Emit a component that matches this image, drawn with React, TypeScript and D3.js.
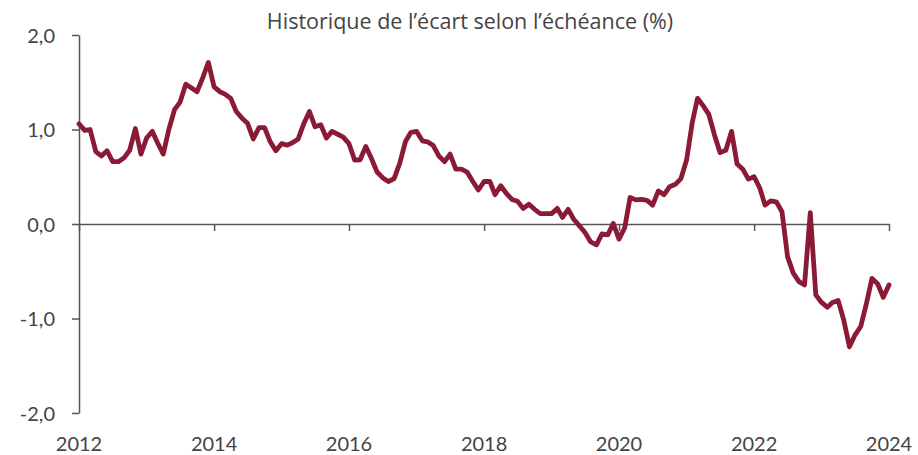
import React, { useEffect, useRef } from 'react';
import * as d3 from 'd3';

// month offsets from Jan 2012
const monthIndex: number[] = Array.from({ length: 145 }, (_, i) => i);

const spread: number[] = [
  1.06, 0.99, 1.0, 0.765, 0.72, 0.775, 0.66, 0.66, 0.7, 0.78, 1.01, 0.74,
  0.91, 0.98, 0.86, 0.74, 1.0, 1.21, 1.29, 1.48, 1.44, 1.4, 1.55, 1.71,
  1.45, 1.4, 1.375, 1.33, 1.19, 1.12, 1.065, 0.9, 1.02, 1.02, 0.87, 0.775,
  0.85, 0.835, 0.86, 0.9, 1.06, 1.19, 1.03, 1.05, 0.91, 0.98, 0.95, 0.92,
  0.85, 0.675, 0.68, 0.82, 0.695, 0.55, 0.49, 0.45, 0.48, 0.64, 0.87, 0.97,
  0.98, 0.88, 0.87, 0.83, 0.72, 0.66, 0.74, 0.58, 0.58, 0.55, 0.45, 0.36,
  0.45, 0.45, 0.31, 0.405, 0.325, 0.26, 0.24, 0.165, 0.21, 0.155, 0.11, 0.11,
  0.11, 0.165, 0.07, 0.155, 0.05, -0.02, -0.09, -0.19, -0.22, -0.105, -0.115, 0.005,
  -0.16, -0.04, 0.28, 0.255, 0.26, 0.25, 0.2, 0.35, 0.31, 0.395, 0.42, 0.48,
  0.68, 1.08, 1.33, 1.25, 1.16, 0.94, 0.755, 0.78, 0.98, 0.635, 0.58, 0.475,
  0.5, 0.38, 0.2, 0.245, 0.235, 0.13, -0.345, -0.52, -0.61, -0.645, 0.12, -0.75,
  -0.83, -0.88, -0.83, -0.81, -1.015, -1.3, -1.175, -1.085, -0.84, -0.575, -0.635, -0.775,
  -0.645,
];

const yTicks: number[] = [-2, -1, 0, 1, 2];
const xTickYears: number[] = [2012, 2014, 2016, 2018, 2020, 2022, 2024];

const title = 'Historique de l\u2019écart selon l\u2019échéance (%)';

function App() {
  const svgRef = useRef<SVGSVGElement>(null);
  const width = 918;
  const height = 455;

  useEffect(() => {
    document.body.style.margin = '0';
    if (!svgRef.current) return;

    const svg = d3.select(svgRef.current);
    svg.selectAll('*').remove();

    const margin = { top: 35, right: 29, bottom: 42, left: 79 };
    const font = 'Lato, "Open Sans", sans-serif';
    const axisColor = '#555';
    const textColor = '#444';

    const x = d3.scaleTime()
      .domain([new Date(2012, 0, 1), new Date(2024, 0, 1)])
      .range([margin.left, width - margin.right]);

    const y = d3.scaleLinear()
      .domain([-2, 2])
      .range([height - margin.bottom, margin.top]);

    const fmt = (v: number) => d3.format('.1f')(v).replace('.', ',').replace('−', '-');

    // title
    svg.append('text')
      .attr('x', 470)
      .attr('y', 29)
      .attr('text-anchor', 'middle')
      .style('font-family', '"Open Sans", sans-serif')
      .style('font-size', '21.5px')
      .style('fill', textColor)
      .text(title);

    // Y axis
    const yAxis = svg.append('g')
      .attr('transform', `translate(${margin.left},0)`)
      .call(d3.axisLeft(y).tickValues(yTicks).tickSize(7).tickSizeOuter(0).tickFormat(d => fmt(+d)));
    yAxis.select('.domain').attr('stroke', axisColor).attr('stroke-width', 1.5);
    yAxis.selectAll('.tick line').attr('stroke', axisColor).attr('stroke-width', 1.5);
    yAxis.selectAll('.tick text')
      .attr('x', -24)
      .attr('dy', '0.35em')
      .style('font-family', font)
      .style('font-size', '20px')
      .style('fill', textColor);

    // X axis along zero
    const xAxis = svg.append('g')
      .attr('transform', `translate(0,${y(0)})`)
      .call(d3.axisBottom(x)
        .tickValues(xTickYears.map(yr => new Date(yr, 0, 1)))
        .tickSize(7)
        .tickSizeOuter(0)
        .tickFormat(() => ''));
    xAxis.select('.domain').attr('stroke', axisColor).attr('stroke-width', 1.5);
    xAxis.selectAll('.tick line').attr('stroke', axisColor).attr('stroke-width', 1.5);

    // year labels at the bottom
    svg.append('g')
      .selectAll('text')
      .data(xTickYears)
      .enter().append('text')
      .attr('x', d => x(new Date(d, 0, 1)))
      .attr('y', 451)
      .attr('text-anchor', 'middle')
      .style('font-family', font)
      .style('font-size', '20px')
      .style('fill', textColor)
      .text(d => String(d));

    // series
    const line = d3.line<number>()
      .x((_, i) => x(new Date(2012, monthIndex[i], 1)))
      .y(d => y(d));

    svg.append('path')
      .datum(spread)
      .attr('d', line)
      .attr('fill', 'none')
      .attr('stroke', '#8a1a36')
      .attr('stroke-width', 4.8)
      .attr('stroke-linejoin', 'round')
      .attr('stroke-linecap', 'round');
  }, []);

  return <svg ref={svgRef} width={width} height={height} style={{ display: 'block' }} />;
}

export default App;
